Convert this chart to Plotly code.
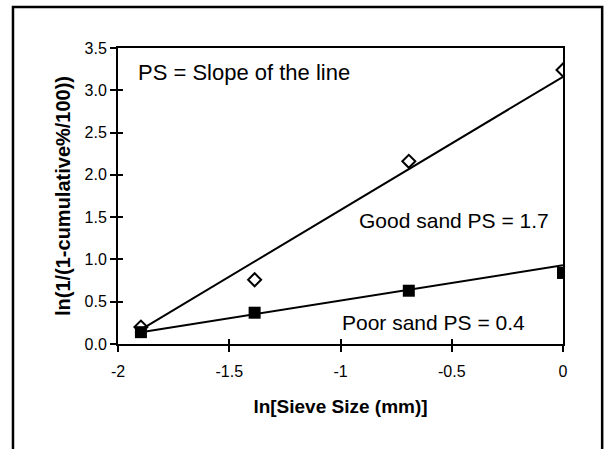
import plotly.graph_objects as go

# Data (ln of sieve size in mm vs ln(1/(1-cumulative%/100)))
sieve_ln = [-1.897, -1.386, -0.693, 0.0]
good_sand = [0.20, 0.76, 2.16, 3.24]
poor_sand = [0.14, 0.37, 0.63, 0.84]

# Trend lines (endpoints)
trend_x = [-1.897, 0.0]
good_trend = [0.17, 3.16]
poor_trend = [0.14, 0.93]

x_tickvals = [-2, -1.5, -1, -0.5, 0]
x_ticktext = ["-2", "-1.5", "-1", "-0.5", "0"]
y_tickvals = [0, 0.5, 1.0, 1.5, 2.0, 2.5, 3.0, 3.5]

FONT = "Liberation Sans, Arial, sans-serif"

fig = go.Figure()
fig.add_trace(go.Scatter(x=trend_x, y=good_trend, mode="lines",
                         line=dict(color="black", width=2), showlegend=False))
fig.add_trace(go.Scatter(x=trend_x, y=poor_trend, mode="lines",
                         line=dict(color="black", width=2), showlegend=False))
fig.add_trace(go.Scatter(x=sieve_ln, y=poor_sand, mode="markers",
                         marker=dict(symbol="square", size=12, color="black"),
                         showlegend=False))
fig.add_trace(go.Scatter(x=sieve_ln, y=good_sand, mode="markers",
                         marker=dict(symbol="diamond-open", size=10, color="black",
                                     line=dict(width=2, color="black")),
                         showlegend=False))
# invisible trace to activate the secondary (inside-tick) axes
fig.add_trace(go.Scatter(x=[None], y=[None], xaxis="x2", yaxis="y2",
                         showlegend=False, hoverinfo="skip"))

axis_common = dict(showgrid=False, zeroline=False, showline=True,
                   linecolor="black", linewidth=2, tickcolor="black",
                   tickwidth=2)

fig.update_layout(
    width=605, height=449,
    margin=dict(l=118, r=42, t=48, b=105),
    paper_bgcolor="white", plot_bgcolor="white",
    font=dict(family=FONT, color="black", size=16),
    xaxis=dict(range=[-2, 0], tickvals=x_tickvals, ticktext=x_ticktext,
               ticks="outside", ticklen=6, mirror=True, ticklabelstandoff=6,
               title=dict(text="<b>ln[Sieve Size (mm)]</b>", font=dict(size=19), standoff=20),
               tickfont=dict(size=16), **axis_common),
    yaxis=dict(range=[0, 3.5], tickvals=y_tickvals, tickformat=".1f",
               ticks="outside", ticklen=6, mirror=True,
               title=dict(text="<b>ln(1/(1-cumulative%/100))</b>", font=dict(size=20), standoff=9),
               tickfont=dict(size=16), **axis_common),
    xaxis2=dict(range=[-2, 0], overlaying="x", matches="x", tickvals=x_tickvals,
                ticks="inside", ticklen=5, showticklabels=False, side="bottom",
                showgrid=False, zeroline=False, showline=False,
                tickcolor="black", tickwidth=2),
    yaxis2=dict(range=[0, 3.5], overlaying="y", matches="y", tickvals=y_tickvals,
                ticks="inside", ticklen=5, showticklabels=False, side="left",
                showgrid=False, zeroline=False, showline=False,
                tickcolor="black", tickwidth=2),
    annotations=[
        dict(x=-1.919, y=3.21, xref="x", yref="y", text="PS = Slope of the line",
             showarrow=False, xanchor="left", yanchor="middle", font=dict(size=22)),
        dict(x=-0.927, y=1.465, xref="x", yref="y", text="Good sand PS = 1.7",
             showarrow=False, xanchor="left", yanchor="middle", font=dict(size=21)),
        dict(x=-0.162, y=0.26, xref="x", yref="y", text="Poor sand PS = 0.4",
             showarrow=False, xanchor="right", yanchor="middle", font=dict(size=21)),
    ],
    shapes=[
        dict(type="rect", xref="paper", yref="paper", x0=-0.236, x1=1.088,
             y0=-0.5, y1=1.1385, line=dict(color="black", width=2.5),
             fillcolor="rgba(0,0,0,0)", layer="below"),
    ],
)

fig.write_html("out.html")
